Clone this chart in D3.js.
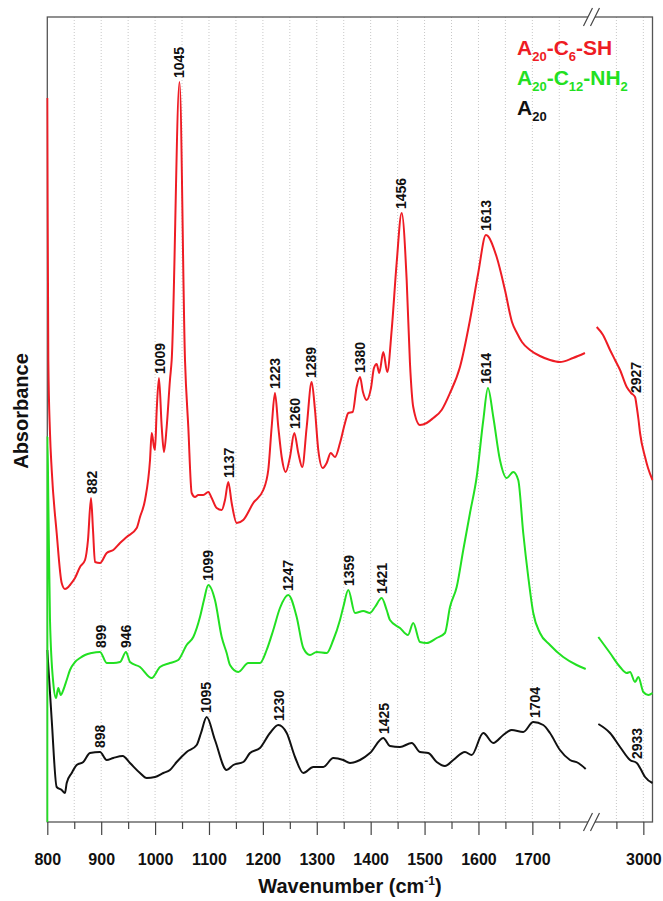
<!DOCTYPE html>
<html>
<head>
<meta charset="utf-8">
<script src="https://cdn.jsdelivr.net/npm/d3@7/dist/d3.min.js"></script>
<style>
  body { margin: 0; background: #fff; }
  svg { display: block; font-family: "Liberation Sans", Arial, sans-serif; }
</style>
</head>
<body>
<div id="chart"></div>
<script>
// FTIR spectra, values (absorbance in arbitrary units)
const redWn = [800, 800.6, 801.9, 805, 808.2, 817.4, 826.7, 832.8, 839, 842.1,
  851.4, 860.7, 870, 875.5, 881.1, 884.8, 888.5, 897.8, 910.2, 922.5,
  934.9, 947.3, 965.9, 972, 981.3, 990.6, 993.7, 998, 999.8, 1003,
  1007.2, 1012.3, 1016.5, 1021.5, 1027.6, 1030.8, 1045.3, 1055.5,
  1061.6, 1067.9, 1074, 1080.2, 1089.4, 1098.7, 1105, 1114.3, 1123.6, 1129.7,
  1135.8, 1142.1, 1151.4, 1163.6, 1182.2, 1200.7, 1210, 1216.3, 1222.4, 1228.6,
  1234.9, 1242.3, 1250.3, 1258.3, 1265.7, 1273.1, 1281.3, 1290.5, 1296.7, 1302.8,
  1311, 1318.4, 1325.8, 1333.8, 1343.1, 1352.4, 1358.5, 1366.6, 1374, 1380.2,
  1385.7, 1392.6, 1400.6, 1406.1, 1411.1, 1416, 1423.4, 1430.8, 1439, 1448.2,
  1457.5, 1466.8, 1472.9, 1479, 1491.5, 1503.9, 1516.2, 1531.7, 1547.2, 1565.7,
  1584.3, 1599.6, 1613.9, 1633.8, 1649.2, 1662.2, 1671.4, 1680.7, 1695.6, 1714.1,
  1732.7, 1751.2, 1775.4, 1797.6,
  2913.5, 2925.2, 2938.2, 2947.5, 2956.8, 2969.2, 2977.2, 2984.6, 2987.8, 2991.1, 2993.9, 3003.2, 3008.7, 3017];
const redAbs = [1.448, 1.244, 0.924, 0.778, 0.704, 0.578, 0.478, 0.466, 0.470, 0.474,
  0.488, 0.510, 0.524, 0.564, 0.648, 0.584, 0.520, 0.518, 0.538, 0.544,
  0.558, 0.570, 0.588, 0.610, 0.644, 0.724, 0.778, 0.750, 0.744, 0.824,
  0.888, 0.790, 0.740, 0.790, 0.884, 0.924, 1.480, 0.924,
  0.790, 0.658, 0.650, 0.654, 0.654, 0.660, 0.648, 0.628, 0.624, 0.644,
  0.680, 0.638, 0.598, 0.604, 0.638, 0.664, 0.704, 0.790, 0.858, 0.790,
  0.730, 0.700, 0.730, 0.778, 0.738, 0.710, 0.790, 0.880, 0.824, 0.744,
  0.708, 0.718, 0.738, 0.730, 0.758, 0.798, 0.818, 0.820, 0.870, 0.890,
  0.860, 0.844, 0.868, 0.908, 0.916, 0.898, 0.940, 0.900, 0.984, 1.118,
  1.218, 1.084, 0.918, 0.830, 0.794, 0.798, 0.808, 0.824, 0.858, 0.910,
  1.004, 1.098, 1.174, 1.130, 1.064, 1.000, 0.978, 0.960, 0.944, 0.932,
  0.924, 0.920, 0.928, 0.938,
  0.990, 0.974, 0.944, 0.924, 0.904, 0.870, 0.858, 0.850, 0.830, 0.804, 0.778, 0.730, 0.708, 0.684];

const greenWn = [800, 800.2, 801.9, 805, 811.1, 816.1, 820.4, 824.9, 829.7, 836,
  842.1, 851.4, 860.7, 870, 882.4, 897.8, 910.2, 922.5, 934.9, 946,
  953.4, 972, 993.7, 1009.1, 1027.6, 1043, 1058.6, 1070.9, 1083.3, 1090.7,
  1098.7, 1111.1, 1123.6, 1132.8, 1139, 1154.4, 1172.9, 1194.6, 1207, 1219.3,
  1231.7, 1247.1, 1262.7, 1275, 1287.4, 1299.8, 1318.4, 1330.6, 1343.1, 1349.2,
  1358.5, 1370.9, 1386.3, 1398.7, 1408, 1420.4, 1429.7, 1435.8, 1454.4, 1469.2,
  1479, 1491.5, 1503.9, 1522.5, 1537.8, 1547.2, 1559.6, 1571.8, 1584.3, 1596.7,
  1609, 1617.6, 1627.5, 1639.9, 1652.3, 1664.6, 1673.8, 1683.1, 1692.4, 1701.7,
  1714.1, 1732.7, 1757.3, 1782.2, 1799,
  2916.5, 2938.2, 2956.8, 2969.2, 2975.3, 2984.6, 2990.7, 3000, 3009.3, 3017];
const greenAbs = [0, 0.770, 0.644, 0.404, 0.278, 0.248, 0.268, 0.254, 0.264, 0.284,
  0.304, 0.320, 0.328, 0.334, 0.338, 0.340, 0.318, 0.318, 0.320, 0.340,
  0.320, 0.310, 0.288, 0.310, 0.318, 0.324, 0.354, 0.370, 0.410, 0.444,
  0.474, 0.444, 0.370, 0.338, 0.314, 0.300, 0.318, 0.318, 0.344, 0.384,
  0.428, 0.454, 0.410, 0.348, 0.334, 0.340, 0.338, 0.364, 0.404, 0.430,
  0.464, 0.418, 0.422, 0.418, 0.430, 0.448, 0.424, 0.404, 0.388, 0.374,
  0.398, 0.360, 0.358, 0.368, 0.378, 0.430, 0.470, 0.544, 0.618, 0.690,
  0.804, 0.868, 0.810, 0.724, 0.688, 0.700, 0.684, 0.578, 0.490, 0.418,
  0.378, 0.354, 0.330, 0.314, 0.306,
  0.370, 0.338, 0.310, 0.298, 0.300, 0.280, 0.290, 0.260, 0.254, 0.258];

const blackWn = [800, 808.2, 817.4, 826.7, 832.8, 836, 845.3, 854.5, 866.8, 879.2,
  897.8, 910.2, 922.5, 939.9, 953.4, 972, 984.4, 999.8, 1015.2, 1027.6,
  1040.1, 1058.6, 1077.2, 1085.2, 1095.7, 1111.1, 1132.8, 1145.1, 1163.6, 1176.1,
  1194.6, 1213.2, 1228.6, 1244.2, 1259.6, 1275, 1293.5, 1312.1, 1330.6, 1349.2,
  1361.6, 1380.2, 1398.7, 1423.4, 1435.8, 1454.4, 1476.1, 1491.5, 1506.9, 1522.5,
  1537.8, 1553.3, 1575, 1587.4, 1608.9, 1627.5, 1646, 1661.6, 1683.1, 1701.7,
  1720.2, 1732.7, 1751.2, 1769.8, 1785.2, 1799,
  2916.5, 2938.2, 2956.8, 2975.3, 2987.8, 2993.9, 3003.2, 3017];
const blackAbs = [0.344, 0.204, 0.070, 0.064, 0.058, 0.078, 0.098, 0.114, 0.120, 0.138,
  0.140, 0.124, 0.128, 0.132, 0.118, 0.098, 0.088, 0.090, 0.098, 0.104,
  0.120, 0.140, 0.154, 0.178, 0.210, 0.164, 0.104, 0.114, 0.120, 0.138,
  0.148, 0.178, 0.194, 0.178, 0.130, 0.098, 0.110, 0.110, 0.128, 0.124,
  0.118, 0.124, 0.138, 0.168, 0.152, 0.150, 0.158, 0.140, 0.138, 0.120,
  0.112, 0.124, 0.140, 0.134, 0.178, 0.158, 0.174, 0.184, 0.180, 0.200,
  0.194, 0.178, 0.144, 0.124, 0.118, 0.106,
  0.196, 0.178, 0.150, 0.124, 0.118, 0.108, 0.090, 0.078];

// peak annotations: [label, wavenumber where it is drawn]
const redPeaks = [[882, 882], [1009, 1009], [1045, 1045], [1137, 1137], [1223, 1223], [1260, 1260],
  [1289, 1289], [1380, 1380], [1456, 1456], [1613, 1613], [2927, 2986]];
const greenPeaks = [[899, 899], [946, 946], [1099, 1099], [1247, 1247], [1359, 1359], [1421, 1421], [1614, 1614]];
const blackPeaks = [[898, 898], [1095, 1095], [1230, 1230], [1425, 1425], [1704, 1704], [2933, 2988]];

const majorTicks = [800, 900, 1000, 1100, 1200, 1300, 1400, 1500, 1600, 1700, 3000];
const minorTicks = [850, 950, 1050, 1150, 1250, 1350, 1450, 1550, 1650, 1750, 2950];
const axisBreak = [1800, 2900];
const wnMax = 3017;

const legendRows = [
  [["A", 0], ["20", 1], ["-C", 0], ["6", 1], ["-SH", 0]],
  [["A", 0], ["20", 1], ["-C", 0], ["12", 1], ["-NH", 0], ["2", 1]],
  [["A", 0], ["20", 1]]
];
const colors = ["#ee1c24", "#22e022", "#111111"];

const width = 663, height = 901;
const marginLeft = 47.3, marginRight = 10.5, marginTop = 17, marginBottom = 79;
const gap = 3.2;
const plotRight = width - marginRight;
const plotBottom = height - marginBottom;

const k = (plotRight - marginLeft - gap) / ((axisBreak[0] - 800) + (wnMax - axisBreak[1]));
const x = d3.scaleLinear()
  .domain([800, axisBreak[0], axisBreak[1], wnMax])
  .range([marginLeft, marginLeft + (axisBreak[0] - 800) * k,
          marginLeft + (axisBreak[0] - 800) * k + gap, plotRight]);

const y = d3.scaleLinear()
  .domain([0, 1.61])
  .range([plotBottom, marginTop]);

const svg = d3.select("#chart").append("svg")
  .attr("width", width)
  .attr("height", height)
  .attr("viewBox", [0, 0, width, height]);

// dotted grid at every tick
svg.append("g")
  .selectAll("line")
  .data(majorTicks.concat(minorTicks).filter(d => d !== 800))
  .join("line")
    .attr("x1", d => x(d)).attr("x2", d => x(d))
    .attr("y1", marginTop).attr("y2", plotBottom)
    .attr("stroke", "#c8c8c8")
    .attr("stroke-width", 1)
    .attr("stroke-dasharray", "1,2");

// frame
svg.append("rect")
  .attr("x", marginLeft).attr("y", marginTop)
  .attr("width", plotRight - marginLeft).attr("height", plotBottom - marginTop)
  .attr("fill", "none")
  .attr("stroke", "#555")
  .attr("stroke-width", 1.3);

// ticks: major with labels, minor without
svg.append("g")
    .attr("transform", `translate(0,${plotBottom})`)
    .call(d3.axisBottom(x).tickValues(majorTicks).tickSize(13).tickPadding(19).tickFormat(d3.format("d")))
    .call(g => g.select(".domain").remove())
    .call(g => g.selectAll(".tick line").attr("stroke", "#444").attr("stroke-width", 1.2))
    .call(g => g.selectAll(".tick text")
      .attr("fill", "#111")
      .attr("font-size", 16)
      .attr("font-weight", "bold")
      .attr("font-family", "'Liberation Sans', Arial, sans-serif"));

svg.append("g")
    .attr("transform", `translate(0,${plotBottom})`)
    .call(d3.axisBottom(x).tickValues(minorTicks).tickSize(7).tickFormat(""))
    .call(g => g.select(".domain").remove())
    .call(g => g.selectAll(".tick line").attr("stroke", "#444").attr("stroke-width", 1.2));

// spectra, each split at the axis break
const series = [
  { wn: redWn, abs: redAbs, color: colors[0], peaks: redPeaks },
  { wn: greenWn, abs: greenAbs, color: colors[1], peaks: greenPeaks },
  { wn: blackWn, abs: blackAbs, color: colors[2], peaks: blackPeaks }
];
series.forEach(s => { s.points = d3.zip(s.wn, s.abs); });

const line = d3.line()
  .x(d => x(d[0]))
  .y(d => y(d[1]))
  .curve(d3.curveMonotoneX);

svg.append("clipPath").attr("id", "plot-clip")
  .append("rect")
    .attr("x", marginLeft - 1).attr("y", marginTop)
    .attr("width", plotRight - marginLeft + 2).attr("height", plotBottom - marginTop);

const curves = svg.append("g").attr("clip-path", "url(#plot-clip)");
// black first so red ends up on top
series.slice().reverse().forEach(s => {
  const parts = [s.points.filter(d => d[0] <= axisBreak[0]), s.points.filter(d => d[0] >= axisBreak[1])];
  curves.selectAll(null)
    .data(parts)
    .join("path")
      .attr("fill", "none")
      .attr("stroke", s.color)
      .attr("stroke-width", 2)
      .attr("stroke-linejoin", "round")
      .attr("d", line);
});

// peak labels, rotated, sitting just above the curve
function peakTop(points, at) {
  let best = -Infinity;
  for (let i = 0; i < points.length - 1; i++) {
    const [w0, a0] = points[i], [w1, a1] = points[i + 1];
    if (Math.abs(w0 - at) <= 6) best = Math.max(best, a0);
    if (w0 <= at && at <= w1) best = Math.max(best, a0 + (a1 - a0) * (at - w0) / (w1 - w0));
  }
  return best;
}

series.forEach(s => {
  svg.append("g")
    .selectAll("text")
    .data(s.peaks)
    .join("text")
      .attr("transform", d => `translate(${x(d[1])},${y(peakTop(s.points, d[1])) - 4}) rotate(-90)`)
      .attr("dy", "0.36em")
      .attr("font-size", 14)
      .attr("font-weight", "bold")
      .attr("fill", "#111")
      .text(d => d[0]);
});

// axis break marks
const bx = (x(axisBreak[0]) + x(d3.min(redWn.filter(w => w > axisBreak[1])))) / 2;
[marginTop, plotBottom].forEach(by => {
  svg.append("rect")
    .attr("x", bx - 3.5).attr("y", by - 2)
    .attr("width", 7).attr("height", 4)
    .attr("fill", "#fff");
  [-3.5, 3.5].forEach(off => {
    svg.append("line")
      .attr("x1", bx + off - 4.5).attr("y1", by + 9)
      .attr("x2", bx + off + 4.5).attr("y2", by - 9)
      .attr("stroke", "#444")
      .attr("stroke-width", 1.2);
  });
});

// legend
const legend = svg.append("g");
legendRows.forEach((row, i) => {
  const t = legend.append("text")
    .attr("x", 517)
    .attr("y", 55 + i * 30)
    .attr("fill", colors[i])
    .attr("font-weight", "bold")
    .attr("font-size", 21);
  let shifted = 0;
  row.forEach(([txt, sub]) => {
    const want = sub ? 6 : 0;
    t.append("tspan")
      .attr("dy", want - shifted)
      .attr("font-size", sub ? 13 : 21)
      .text(txt);
    shifted = want;
  });
});

// axis titles
const xt = svg.append("text")
  .attr("x", 350)
  .attr("y", 893)
  .attr("text-anchor", "middle")
  .attr("font-size", 20)
  .attr("font-weight", "bold")
  .attr("fill", "#111");
xt.append("tspan").text("Wavenumber (cm");
xt.append("tspan").attr("dy", -8).attr("font-size", 12).text("-1");
xt.append("tspan").attr("dy", 8).text(")");

svg.append("text")
  .attr("transform", "translate(28,411) rotate(-90)")
  .attr("text-anchor", "middle")
  .attr("font-size", 20)
  .attr("font-weight", "bold")
  .attr("fill", "#111")
  .text("Absorbance");
</script>
</body>
</html>
